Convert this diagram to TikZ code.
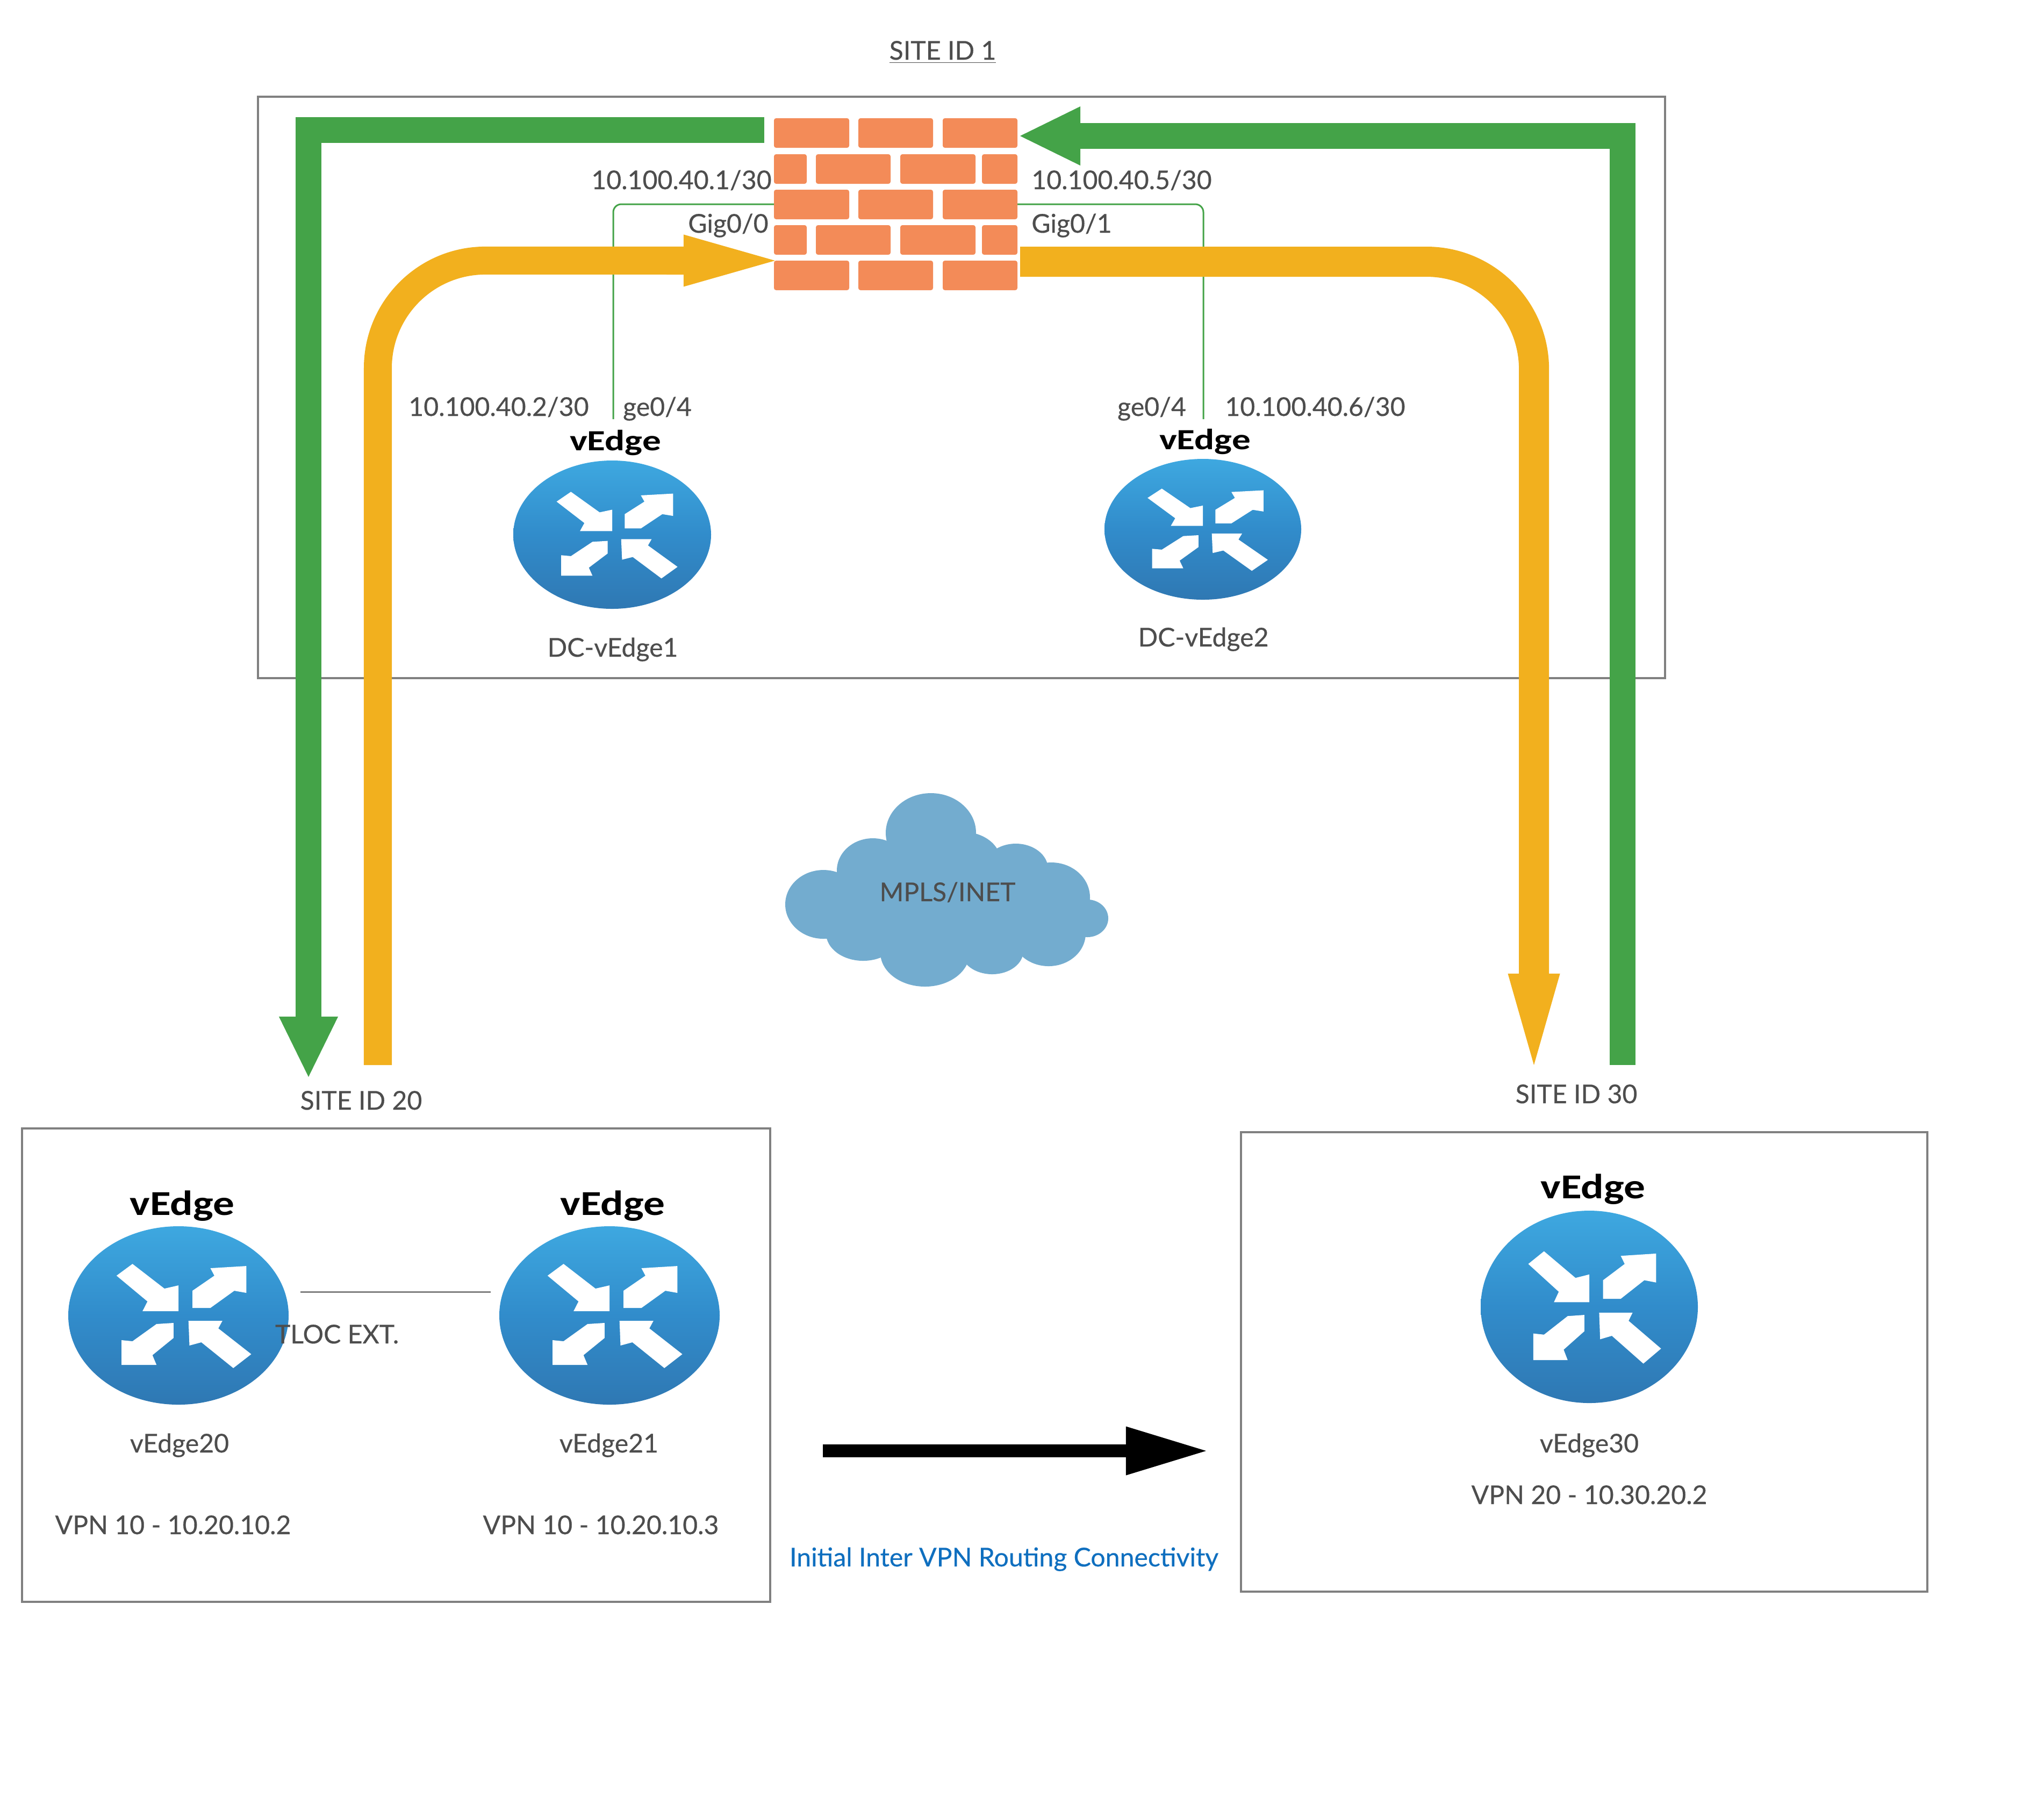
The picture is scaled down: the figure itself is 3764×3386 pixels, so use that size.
\documentclass[tikz,border=0pt]{standalone}
\usepackage{fontspec}
\setmainfont{Lato}[RawFeature={embolden=0.4}]
\newfontfamily\edgefont{Carlito}
\usepackage{tikz}
\usetikzlibrary{arrows.meta, shapes.geometric}

\definecolor{txtgray}{HTML}{4D4D4D}
\definecolor{boxgray}{HTML}{808080}
\definecolor{brickorange}{HTML}{F38B58}
\definecolor{flowgreen}{HTML}{44A348}
\definecolor{flowyellow}{HTML}{F2B01E}
\definecolor{cloudblue}{HTML}{73ACCF}
\definecolor{linkblue}{HTML}{0F6FBF}
\definecolor{routertop}{HTML}{3EA8E0}
\definecolor{routermid}{HTML}{318CCB}
\definecolor{routerbottom}{HTML}{2F78B3}

\newcommand{\routerglyph}[3]{
  \begin{scope}[shift={(#1)}, x=#2*0.01cm, y=#3*0.01cm]
    \fill[white] (-0.417,0.578) -- (-0.562,0.446) -- (-0.281,0.157) -- (-0.326,0.048) -- (0,0.048) -- (0,0.337) -- (-0.127,0.301) -- cycle;
    \fill[white] (0.616,0.554) -- (0.616,0.253) -- (0.507,0.277) -- (0.290,0.084) -- (0.127,0.084) -- (0.127,0.277) -- (0.326,0.446) -- (0.290,0.530) -- cycle;
    \fill[white] (-0.516,-0.554) -- (-0.516,-0.277) -- (-0.417,-0.289) -- (-0.199,-0.096) -- (-0.045,-0.084) -- (-0.045,-0.253) -- (-0.236,-0.445) -- (-0.199,-0.554) -- cycle;
    \fill[white] (0.091,-0.06) -- (0.399,-0.06) -- (0.362,-0.145) -- (0.661,-0.434) -- (0.498,-0.59) -- (0.208,-0.301) -- (0.1,-0.337) -- cycle;
  \end{scope}
}

\begin{document}
\begin{tikzpicture}[x=0.01cm, y=-0.01cm,
      every node/.append style={inner sep=0pt, outer sep=0pt},
      lbl/.style={anchor=base, text=txtgray, font=\fontsize{13.7}{16}\selectfont},
      edgelbl/.style={anchor=base, text=black, transform shape, xscale=1.27, font=\edgefont\bfseries\fontsize{15.5}{18}\selectfont},
      edgelblbig/.style={anchor=base, text=black, transform shape, xscale=1.22, font=\edgefont\bfseries\fontsize{18.5}{20}\selectfont},
      sitebox/.style={draw=boxgray, line width=0.04cm},
      thinlink/.style={draw=flowgreen, line width=0.03cm, rounded corners=0.15cm},
      greenflow/.style={draw=flowgreen, line width=0.48cm, line join=miter, -{Triangle[length=1.12cm, width=1.1cm, line width=0pt]}},
      yellowflow/.style={draw=flowyellow, line width=0.52cm, -{Triangle[length=1.7cm, width=0.97cm, line width=0pt]}}]
    \useasboundingbox (0,0) rectangle (3764,3386);

    % boxes
    \draw[sitebox] (480,180) rectangle (3098,1262);
    \draw[sitebox] (41,2100) rectangle (1433,2981);
    \draw[sitebox] (2309,2107) rectangle (3586,2962);

    % firewall
    \node (fw) [minimum width=4.53cm, minimum height=3.2cm] at (1666.5,380) {};
    \coordinate (dcport1) at (1141,780);
    \coordinate (dcport2) at (2239,780);
    \draw[thinlink] (fw.west) -| (dcport1);
    \draw[thinlink] (fw.east) -| (dcport2);
    \foreach \ytop/\ybot in {220/275, 353/408, 485/540}
      \foreach \xa/\xb in {1440/1580, 1597/1736, 1754/1893}
        \fill[brickorange, rounded corners=0.04cm] (\xa,\ytop) rectangle (\xb,\ybot);
    \foreach \ytop/\ybot in {287/342, 419/474}
      \foreach \xa/\xb in {1440/1501, 1518/1657, 1675/1815, 1827/1893}
        \fill[brickorange, rounded corners=0.04cm] (\xa,\ytop) rectangle (\xb,\ybot);

    % routers
    \foreach \name/\cx/\cy/\rx/\ry in {dcedge1/1139/995/184/138, dcedge2/2238/985/183/131, vedge20/332/2448/205/166, vedge21/1134/2448/205/166, vedge30/2957/2432/202/179} {
      \node (\name) [ellipse, top color=routertop, bottom color=routerbottom, middle color=routermid, minimum width=2*\rx*0.01cm, minimum height=2*\ry*0.01cm] at (\cx,\cy) {};
      \routerglyph{\cx,\cy}{\rx}{\ry}
    }
    \node[edgelbl] (dchead1) at (1145,838) {vEdge};
    \node[edgelbl] (dchead2) at (2242,836) {vEdge};
    \node[edgelblbig] (head20) at (339,2261) {vEdge};
    \node[edgelblbig] (head21) at (1140,2261) {vEdge};
    \node[edgelblbig] (head30) at (2964,2230) {vEdge};

    % cloud
    \foreach \cx/\cy/\rx/\ry in {1532/1683/71/64, 1624/1620/67/60, 1732/1550/84/74, 1791/1603/71/55, 1890/1617/60/47, 1956/1670/72/65, 2023/1709/39/35, 1951/1737/69/61, 1846/1770/58/43, 1721/1773/83/63, 1606/1737/69/51}
      \fill[cloudblue] (\cx,\cy) ellipse [x radius=\rx*0.01cm, y radius=\ry*0.01cm];
    \fill[cloudblue] (1600,1610) rectangle (1945,1770);
    \fill[cloudblue] (1890,1612) rectangle (1960,1700);
    \node[lbl] (cloud) at (1763,1677) {MPLS/INET};

    % flows
    \coordinate (gl) at (1422,242);
    \coordinate (gt) at (574,2004);
    \coordinate (gr) at (3019,1982);
    \coordinate (gf) at (1898,253);
    \coordinate (yl) at (703,1982);
    \coordinate (yf) at (1442,485);
    \coordinate (yr) at (1898,487);
    \coordinate (yt) at (2854,1982);
    \draw[greenflow] (gl) -| (gt);
    \draw[greenflow] (gr) |- (gf);
    \draw[yellowflow] (yl) -- (703,685) arc [start angle=180, end angle=90, radius=2cm] -- (yf);
    \draw[yellowflow, line width=0.56cm] (yr) -- (2654,487) arc [start angle=90, end angle=0, radius=2cm] -- (yt);

    % tloc link and main arrow
    \coordinate (tlocl) at (559,2404);
    \coordinate (tlocr) at (913,2404);
    \draw[draw=boxgray, line width=0.03cm] (tlocl) -- (tlocr);
    \coordinate (initl) at (1531,2700);
    \coordinate (initr) at (2244,2700);
    \draw[line width=0.24cm, -{Triangle[length=1.49cm, width=0.91cm, line width=0pt]}] (initl) -- (initr);

    % texts
    \node[lbl] (site1) at (1754,111) {\underline{SITE ID 1}};
    \node[lbl] (fwip1) at (1268,352) {10.100.40.1/30};
    \node[lbl] (fwip2) at (2087,352) {10.100.40.5/30};
    \node[lbl] (gig0) at (1355,433) {Gig0/0};
    \node[lbl] (gig1) at (1994,433) {Gig0/1};
    \node[lbl] (dcip1) at (928,774) {10.100.40.2/30};
    \node[lbl] (ge1) at (1223,774) {ge0/4};
    \node[lbl] (ge2) at (2143,774) {ge0/4};
    \node[lbl] (dcip2) at (2447,774) {10.100.40.6/30};
    \node[lbl] (dcname1) at (1140,1222) {DC-vEdge1};
    \node[lbl] (dcname2) at (2239,1203) {DC-vEdge2};
    \node[lbl] (site20) at (672,2065) {SITE ID 20};
    \node[lbl] (site30) at (2933,2053) {SITE ID 30};
    \node[lbl] (tloc) at (627,2500) {TLOC EXT.};
    \node[lbl] (name20) at (334,2703) {vEdge20};
    \node[lbl] (name21) at (1133,2703) {vEdge21};
    \node[lbl] (name30) at (2957,2703) {vEdge30};
    \node[lbl] (vpn20) at (322,2855) {VPN 10 - 10.20.10.2};
    \node[lbl] (vpn21) at (1118,2855) {VPN 10 - 10.20.10.3};
    \node[lbl] (vpn30) at (2957,2799) {VPN 20 - 10.30.20.2};
    \node[lbl, text=linkblue] (initial) at (1868,2915) {Initial Inter VPN Routing Connectivity};
  \end{tikzpicture}
\end{document}
